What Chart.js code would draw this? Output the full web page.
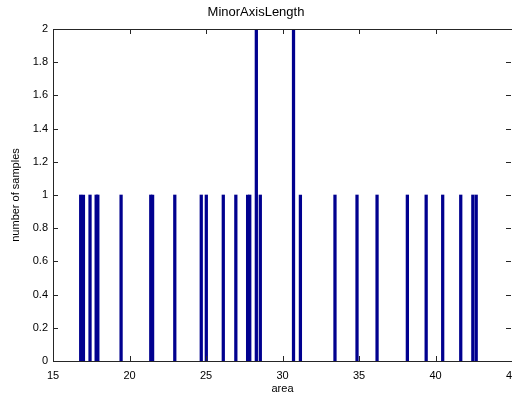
<!DOCTYPE html>
<html>
<head>
<meta charset="utf-8">
<script src="https://cdn.jsdelivr.net/npm/chart.js@4/dist/chart.umd.min.js"></script>
<style>
  html, body { margin: 0; padding: 0; background: #fff; }
  #wrap { width: 512px; height: 396px; }
</style>
</head>
<body>
<div id="wrap"><canvas id="chart1"></canvas></div>
<script>
// bar centres (area) and counts
const binCenters = [16.81, 16.99, 17.42, 17.82, 17.93, 19.45, 21.39, 21.51, 22.96,
    24.69, 25.02, 26.13, 26.95, 27.72, 27.86, 28.29, 28.55, 30.72, 31.17, 33.43,
    34.87, 36.18, 38.16, 39.39, 40.47, 41.65, 42.44, 42.66]
const counts = [1, 1, 1, 1, 1, 1, 1, 1, 1,
    1, 1, 1, 1, 1, 1, 2, 1, 2, 1, 1,
    1, 1, 1, 1, 1, 1, 1, 1]
const xTicks = [15, 20, 25, 30, 35, 40, 45]
const yTicks = [0, 0.2, 0.4, 0.6, 0.8, 1, 1.2, 1.4, 1.6, 1.8, 2]

const font = { family: "'Liberation Sans', Arial, sans-serif", size: 11 }

// MATLAB style box with inward ticks
const boxPlugin = {
    id: 'box',
    afterDraw(chart) {
        const ctx = chart.ctx
        const a = chart.chartArea
        const xs = chart.scales.x
        const ys = chart.scales.y
        const len = 5
        ctx.save()
        ctx.strokeStyle = '#262626'
        ctx.lineWidth = 1
        ctx.beginPath()
        ctx.rect(a.left + 0.5, a.top + 0.5, a.right - a.left + 1, a.bottom - a.top)
        xTicks.forEach(v => {
            const px = Math.round(xs.getPixelForValue(v)) + 0.5
            ctx.moveTo(px, a.bottom)
            ctx.lineTo(px, a.bottom - len)
            ctx.moveTo(px, a.top)
            ctx.lineTo(px, a.top + len)
        })
        yTicks.forEach(v => {
            const py = Math.round(ys.getPixelForValue(v)) + 0.5
            ctx.moveTo(a.left, py)
            ctx.lineTo(a.left + len, py)
            ctx.moveTo(a.right - 1, py)
            ctx.lineTo(a.right - 1 - len, py)
        })
        ctx.stroke()
        ctx.restore()
    }
}

const config = {
    type: 'bar',
    data: {
        datasets: [{
            data: binCenters.map((x, i) => ({ x: x, y: counts[i] })),
            backgroundColor: '#00008f',
            borderWidth: 0,
            barThickness: 2.6
        }]
    },
    options: {
        responsive: true,
        maintainAspectRatio: false,
        animation: false,
        layout: { padding: { left: 0, right: 0, top: 0, bottom: 0 } },
        plugins: {
            legend: { display: false },
            tooltip: { enabled: false },
            title: {
                display: true,
                text: 'MinorAxisLength',
                color: '#000',
                font: { family: font.family, size: 13, weight: 'normal' },
                padding: { top: 5, bottom: 8.4 }
            }
        },
        scales: {
            x: {
                type: 'linear',
                offset: false,
                min: 15,
                max: 45,
                afterBuildTicks: s => { s.ticks = xTicks.map(v => ({ value: v })) },
                afterFit: s => { s.height = 35; s.paddingLeft = 0; s.paddingRight = 0 },
                ticks: { color: '#000', font: font, padding: 8, maxRotation: 0, autoSkip: false },
                grid: { display: false, drawTicks: false, offset: false },
                border: { display: false },
                title: { display: true, text: 'area', color: '#000', font: font, padding: { top: 0, bottom: 0 } }
            },
            y: {
                min: 0,
                max: 2,
                afterBuildTicks: s => { s.ticks = yTicks.map(v => ({ value: v })) },
                afterFit: s => { s.width = 53; s.paddingTop = 0; s.paddingBottom = 0 },
                ticks: { color: '#000', font: font, padding: 5, callback: v => String(v) },
                grid: { display: false, drawTicks: false },
                border: { display: false },
                title: { display: true, text: 'number of samples', color: '#000', font: font, padding: { top: 9, bottom: 4 } }
            }
        }
    },
    plugins: [boxPlugin]
}

new Chart(document.getElementById('chart1').getContext('2d'), config)
</script>
</body>
</html>
